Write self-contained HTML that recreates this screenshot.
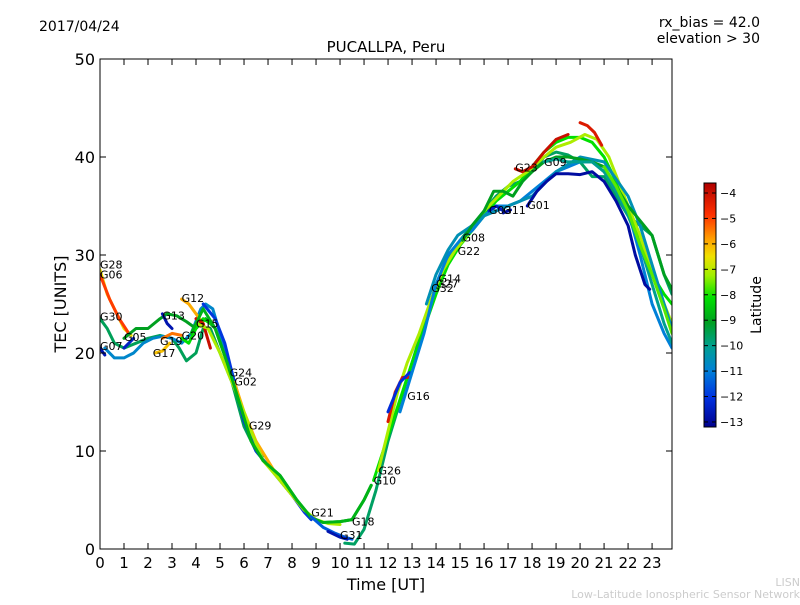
<!DOCTYPE html>
<html><head><meta charset="utf-8">
<style>
body{margin:0;background:#fff;}
svg text{font-family:"DejaVu Sans","Liberation Sans",sans-serif;}
</style></head>
<body>
<svg id="chart" width="800" height="600" viewBox="0 0 800 600" xmlns="http://www.w3.org/2000/svg">
<defs>
<linearGradient id="cbgrad" x1="0" y1="1" x2="0" y2="0">
<stop offset="0" stop-color="#00008c"/>
<stop offset="0.12" stop-color="#0030e0"/>
<stop offset="0.23" stop-color="#0080d8"/>
<stop offset="0.33" stop-color="#00a090"/>
<stop offset="0.43" stop-color="#00a020"/>
<stop offset="0.53" stop-color="#00e000"/>
<stop offset="0.62" stop-color="#a0f000"/>
<stop offset="0.70" stop-color="#f0e000"/>
<stop offset="0.77" stop-color="#ffa000"/>
<stop offset="0.87" stop-color="#ff3000"/>
<stop offset="1" stop-color="#b00000"/>
</linearGradient>
<clipPath id="plotclip"><rect x="100" y="59" width="572" height="490"/></clipPath>
</defs>
<text x="39" y="31" font-size="14">2017/04/24</text>
<text x="760" y="27" font-size="14" text-anchor="end">rx_bias = 42.0</text>
<text x="760" y="43" font-size="14" text-anchor="end">elevation &gt; 30</text>
<text x="386" y="52" font-size="15" text-anchor="middle">PUCALLPA, Peru</text>
<text transform="translate(66,304) rotate(-90)" font-size="16" text-anchor="middle">TEC [UNITS]</text>
<text x="386" y="590" font-size="16" text-anchor="middle">Time [UT]</text>
<g id="series" clip-path="url(#plotclip)"></g>
<g id="labels"></g>
<rect x="100" y="59" width="572" height="490" fill="none" stroke="#000" stroke-width="1"/>
<g id="axes"></g>
<rect x="704" y="183" width="12" height="244" fill="url(#cbgrad)" stroke="#000" stroke-width="1"/>
<g id="cbticks"></g>
<text transform="translate(761,305) rotate(-90)" font-size="14" text-anchor="middle">Latitude</text>
<text x="800" y="586" font-size="11" fill="#cccccc" text-anchor="end">LISN</text>
<text x="800" y="598" font-size="11" fill="#cccccc" text-anchor="end">Low-Latitude Ionospheric Sensor Network</text>
</svg>
<script>
const xTicks=[0,1,2,3,4,5,6,7,8,9,10,11,12,13,14,15,16,17,18,19,20,21,22,23];
const yTicks=[0,10,20,30,40,50];
const cbTicks=[-4,-5,-6,-7,-8,-9,-10,-11,-12,-13];
const satNames=["G28","G06","G30","G07","G05","","G13","","G12","G17","G19","G20","G15","G24","G02","G29","","G21","G31","G18","G10","G26","G16","G32","G14","G27","G22","G08","G03","G11","G01","G23","G09",""];
const satLats=[-6.5,-5,-9.5,-12.8,-10.8,-12.5,-9,-12.8,-6,-6.2,-5.5,-8,-4,-12,-6,-7,-8.7,-11.5,-12.8,-9.6,-8,-7,-4.3,-12.2,-11,-4.3,-10.5,-9,-12.5,-13,-13,-4,-10,-7.5];
const satTimes=[
[0,0.3,0.6,1,1.3],
[0,0.4,0.8,1.2],
[0,0.3,0.6,1,1.5,2,2.5,3,3.3,3.6,4,4.3,4.6,5,5.5,6,6.5,7,7.5,8,8.5],
[0,0.2],
[0.2,0.6,1,1.4,1.8,2.2,2.6,3,3.4,3.8,4.2,4.4,4.7,5,5.5,6,6.4,6.8],
[1,1.4],
[1,1.5,2,2.5,2.8,3.2,3.6,4,4.4,4.8,5.3,5.8,6.3,6.8,7.5,8.2,8.8,9.3,10,10.5,11,11.3],
[2.6,2.8,3],
[3.4,3.7,4,4.3],
[2.3,2.6,2.9],
[2.6,3,3.4],
[3.4,3.7,4,4.3,4.6],
[4,4.3,4.6],
[4.3,4.8,5.2,5.6,6,6.5,7,7.5,8,8.5,8.8],
[5.6,6,6.5,7,7.5,8,8.5],
[4,4.5,5,5.5,6,6.3,6.8,7.5,8,8.5,9,9.5,10],
[3.8,4.3,4.8,5.3,5.8,6.3,6.8,7.5,8.2,8.8,9.3,10,10.5,11,11.3],
[8.8,9.3,9.8,10.2,10.5],
[9.5,10,10.3],
[10.2,10.6,11,11.5,12,12.5,13,13.5,14,14.5,15,15.5,16,16.5,17,17.5,18,18.5,19,19.5,20,20.5,21,21.5,22,22.5,23,23.5,23.83],
[11.4,11.8,12.2,12.6,13,13.5,14,14.5,15,15.5,16,16.5,17,17.5,18,18.5,19,19.5,20,20.5,21,21.5,22,22.5,23,23.5,23.83],
[11.6,12,12.4,12.8,13.3,13.8,14.3,14.8,15.3,16,16.6,17.2,17.8,18.5,19,19.6,20.2,20.7,21.2,21.6,22,22.5,23,23.5,23.83],
[12,12.3,12.6,12.9],
[12,12.5,12.9],
[12.5,13,13.5,14,14.5,15,15.5,16,16.5,17,17.5,18,18.5,19,19.5,20,20.5,21,21.5,22,22.5,23,23.5,23.83],
[20,20.3,20.6,20.9],
[13.6,14,14.5,14.9,15.5,16,17,18,19,20,21,22,22.5,23,23.5,23.83],
[15.1,15.5,16,16.4,16.8,17.2,17.6,18,18.5,19,19.5,20,20.5,21,21.5,22,22.5,23,23.5,23.83],
[16.2,16.5,16.8],
[16.8,17.1],
[17.8,18.2,18.6,19,19.5,20,20.5,21,21.5,22,22.3,22.7,22.9],
[17.3,17.6,18,18.5,19,19.5],
[18.5,19,19.5,20,20.5,21,21.5,22,22.5,23,23.5,23.83],
[21,21.5,22,22.5,23,23.5,23.83]
];
const satTec=[
[28.5,26,24.5,22.5,21.8],
[28,25.5,23.5,22],
[23.5,22.5,21,20.5,21,21.5,21.8,21.5,20.5,19.2,20,22.5,22.5,20,17,12.5,10,8.5,7,5.5,4],
[20.5,19.8],
[20.5,19.5,19.5,20,21,21.5,21.7,21.5,21,22,24.5,25,24.5,22,18,13.5,11,9.5],
[20.5,21.5],
[21.5,22.5,22.5,23.5,24,23.8,23.2,22.5,23.5,22.5,19,15,11,9,7.5,5,3.2,2.7,2.8,3,5,6.5],
[24,23,22.5],
[25.5,25,24,23],
[20,20.2,21],
[21.5,22,21.8],
[21.5,21,22.5,23.5,23],
[23.5,23,20.5],
[25,23.5,21,17,13,10,8.5,7,5.5,3.8,3],
[17,14,11,9,7,5.5,4],
[23,22.5,20,17,14,12,9,7,5.5,4,3,2.6,2.5],
[22,24.5,22.5,19,15,11,9,7.5,5,3.2,2.7,2.8,3,5,6.5],
[3.3,2.2,1.6,1.2,1.0],
[1.8,1.2,1.0],
[0.6,0.5,2,6,11,15,19,23,27,29.5,31.5,33,34.5,36,37,37.5,38.5,40,40.5,40.2,39.5,38,38,36,34,33,32,28,26],
[7,10,13,16,19,22.5,26,29,31,32.5,34,35.5,36.5,37.5,39,40.5,41.5,42,42,41.5,40,37.5,35,31,28,26,25],
[8,12,16,19,22,25.5,28.5,30.5,32,34.5,36,37.5,38.5,40,41,41.5,42.3,41.8,40,37.5,35,32,28,25,23],
[13,16,17.5,17.5],
[14,17,18],
[14,18,22,27,30,31.5,32.5,34,35,35,35.5,36.5,37.5,38.5,39,39.5,39.5,38.5,37,34.5,30,25,22,20.5],
[43.5,43.2,42.5,41.2],
[25,28,30.5,32,33,34,35,36,38.5,40,39.5,36,33,29,25,22.5],
[31.5,33,34.5,36.5,36.5,36,37.5,38.5,39.5,40,40,39.8,39.5,39,37,35,33.5,32,28,26.5],
[34.5,35,34.5],
[34.3,34.6],
[35,36.5,37.5,38.3,38.3,38.2,38.5,37.5,35.5,33,30,27,26.5],
[38.8,38.5,39,40.5,41.8,42.3],
[39.5,39.8,39.5,39.5,39.5,38.5,36.5,34,31,27,23,21],
[39,37,34.5,31,28,24.5,22]
];
const labelPos=[[0,28.6],[0,27.6],[0,23.3],[0,20.3],[1,21.2],null,[2.6,23.4],null,[3.4,25.2],[2.2,19.6],[2.5,20.8],[3.4,21.4],[4,22.6],[5.4,17.6],[5.6,16.7],[6.2,12.2],null,[8.8,3.3],[10,1.0],[10.5,2.4],[11.4,6.6],[11.6,7.6],[12.8,15.2],[13.8,26.2],[14.1,27.2],[14,26.7],[14.9,30],[15.1,31.4],[16.2,34.2],[16.8,34.2],[17.8,34.7],[17.3,38.5],[18.5,39.1],null];
const xMax=23.83;
function X(t){return 100+t*572/xMax;}
function Y(v){return 549-v*9.8;}
function CBY(l){return 193+(-4-l)*25.44;}
const stops=[[-13.3,[0,0,140]],[-12.1,[0,48,224]],[-11,[0,128,216]],[-10,[0,160,144]],[-9,[0,160,32]],[-8,[0,224,0]],[-7.1,[160,240,0]],[-6.5,[240,224,0]],[-5.9,[255,160,0]],[-4.9,[255,48,0]],[-3.6,[176,0,0]]];
function cmap(l){
 if(l<=stops[0][0])return 'rgb('+stops[0][1].join(',')+')';
 for(let i=1;i<stops.length;i++){if(l<=stops[i][0]){const a=stops[i-1],b=stops[i];const f=(l-a[0])/(b[0]-a[0]);const c=a[1].map((v,k)=>Math.round(v+(b[1][k]-v)*f));return 'rgb('+c.join(',')+')';}}
 return 'rgb(176,0,0)';
}
const NS='http://www.w3.org/2000/svg';
const sg=document.getElementById('series');
const lg=document.getElementById('labels');
for(let i=0;i<satTimes.length;i++){
 const p=document.createElementNS(NS,'polyline');
 p.setAttribute('points',satTimes[i].map((t,k)=>X(t).toFixed(1)+','+Y(satTec[i][k]).toFixed(1)).join(' '));
 p.setAttribute('fill','none');p.setAttribute('stroke',cmap(satLats[i]));
 p.setAttribute('stroke-width','3');p.setAttribute('stroke-linejoin','round');p.setAttribute('stroke-linecap','round');
 
 
 sg.appendChild(p);
 if(satNames[i]&&labelPos[i]){
  const tx=document.createElementNS(NS,'text');
  tx.setAttribute('x',X(labelPos[i][0]));tx.setAttribute('y',Y(labelPos[i][1]));
  tx.setAttribute('font-size','11');tx.textContent=satNames[i];
  
  
  lg.appendChild(tx);
 }
}
const ax=document.getElementById('axes');
function line(x1,y1,x2,y2,g){const l=document.createElementNS(NS,'line');l.setAttribute('x1',x1);l.setAttribute('y1',y1);l.setAttribute('x2',x2);l.setAttribute('y2',y2);l.setAttribute('stroke','#000');l.setAttribute('stroke-width','1');
 
 
 g.appendChild(l);}
function txt(x,y,s,anchor,size,g,name){const t=document.createElementNS(NS,'text');t.setAttribute('x',x);t.setAttribute('y',y);t.setAttribute('text-anchor',anchor);t.setAttribute('font-size',size);t.textContent=s;
 
 
 g.appendChild(t);}
xTicks.forEach(t=>{const x=X(t);line(x,549,x,543,ax);line(x,59,x,65,ax);txt(x,568,String(t),'middle',15,ax,'x-tick-label');});
yTicks.forEach(v=>{const y=Y(v);line(100,y,106,y,ax);line(672,y,666,y,ax);txt(95,y+6,String(v),'end',16,ax,'y-tick-label');});
const cg=document.getElementById('cbticks');
cbTicks.forEach(l=>{const y=CBY(l);line(704,y,708,y,cg);line(716,y,712,y,cg);txt(720,y+4,'\u2212'+Math.abs(l),'start',11,cg,'colorbar-tick-label');});
</script>
</body></html>
